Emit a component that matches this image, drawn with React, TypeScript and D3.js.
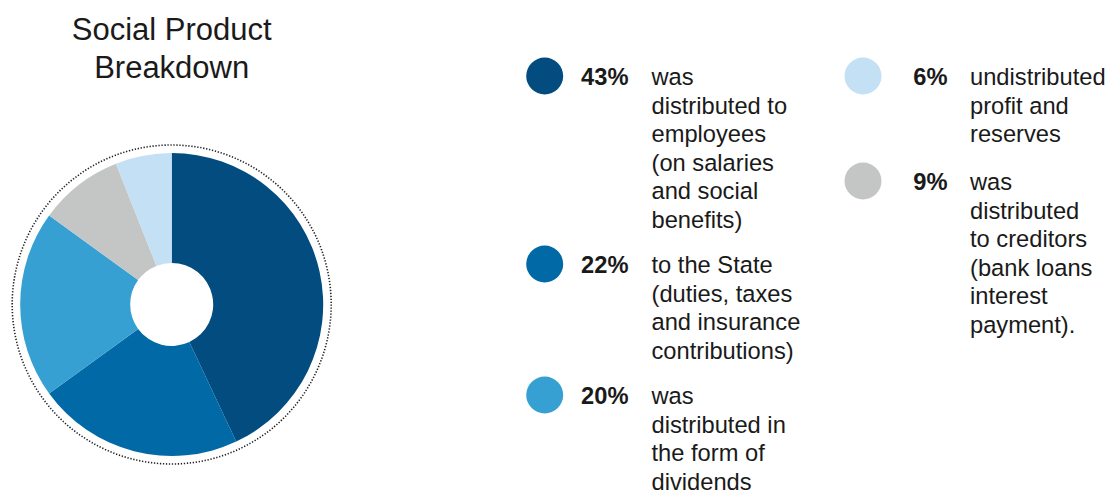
import React from "react";
import * as d3 from "d3";

const categories = ["employees", "state", "dividends", "creditors", "undistributed"];
const values = [43, 22, 20, 9, 6];
const colors = ["#024C80", "#0169A5", "#37A0D3", "#C4C5C5", "#C3E0F4"];

const title = ["Social Product", "Breakdown"];

const legendPct = ["43%", "22%", "20%", "6%", "9%"];
const legendColorIdx = [0, 1, 2, 4, 3];
const legendLines = [
  ["was", "distributed to", "employees", "(on salaries", "and social", "benefits)"],
  ["to the State", "(duties, taxes", "and insurance", "contributions)"],
  ["was", "distributed in", "the form of", "dividends"],
  ["undistributed", "profit and", "reserves"],
  ["was", "distributed", "to creditors", "(bank loans", "interest", "payment)."],
];
// layout: column and vertical position of each legend item
const legendCol = [0, 0, 0, 1, 1];
const legendTop = [76, 264, 395, 76, 181];

export default function App() {
  const cx = 171.7;
  const cy = 304.5;
  const outerR = 151.5;
  const innerR = 41.5;

  const pie = d3
    .pie<number>()
    .sort(null)
    .value((d) => d)
    .startAngle(0)
    .endAngle(2 * Math.PI);
  const arcs = pie(values);
  const arcGen = d3.arc<d3.PieArcDatum<number>>().innerRadius(innerR).outerRadius(outerR);

  const colX = [
    { circle: 544.7, pctEnd: 628.5, text: 651.5 },
    { circle: 863, pctEnd: 947.5, text: 970 },
  ];
  const lineH = 28.5;
  const fs = 23.7;
  const font = "'Liberation Sans', Arial, sans-serif";

  return (
    <div style={{ position: "absolute", left: 0, top: 0 }}>
      <svg width={1109} height={490} style={{ display: "block" }}>
        <rect width={1109} height={490} fill="#fff" />
        {title.map((t, i) => (
          <text
            key={t}
            x={cx}
            y={40 + i * 37.5}
            textAnchor="middle"
            fontFamily={font}
            fontSize={31}
            fill="#1a1a1a"
          >
            {t}
          </text>
        ))}
        <circle
          cx={cx}
          cy={cy}
          r={159.5}
          fill="none"
          stroke="#222"
          strokeWidth={1.6}
          strokeDasharray="1.3 1.7"
        />
        <g transform={`translate(${cx},${cy})`}>
          {arcs.map((a, i) => (
            <path key={categories[i]} d={arcGen(a) || ""} fill={colors[i]} />
          ))}
        </g>
        {legendPct.map((p, i) => {
          const c = colX[legendCol[i]];
          const top = legendTop[i];
          return (
            <g key={p + i}>
              <circle cx={c.circle} cy={top} r={18.5} fill={colors[legendColorIdx[i]]} />
              <text
                x={c.pctEnd}
                y={top + 9}
                textAnchor="end"
                fontFamily={font}
                fontSize={fs}
                fontWeight="bold"
                fill="#1a1a1a"
              >
                {p}
              </text>
              {legendLines[i].map((l, j) => (
                <text
                  key={j}
                  x={c.text}
                  y={top + 9 + j * lineH}
                  fontFamily={font}
                  fontSize={fs}
                  fill="#1a1a1a"
                >
                  {l}
                </text>
              ))}
            </g>
          );
        })}
      </svg>
    </div>
  );
}
